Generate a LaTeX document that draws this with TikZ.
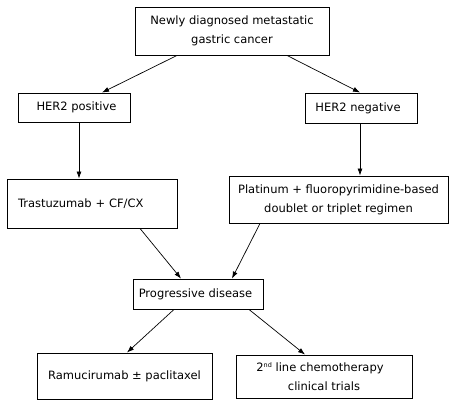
\documentclass[tikz,border=0pt]{standalone}
\usepackage{fontspec}
\setmainfont{DejaVu Sans}
\usetikzlibrary{arrows.meta}
\begin{document}
\begin{tikzpicture}[x=1pt,y=-1pt,
  box/.style={draw=black,line width=0.9pt,inner sep=0pt,align=center,
    font=\fontsize{11.5pt}{19pt}\selectfont},
  arr/.style={draw=black,line width=0.7pt,-{Latex[length=7pt,width=5pt]}}]
\useasboundingbox (0,0) rectangle (455,406);
\node[box,minimum width=194pt,minimum height=48pt] (top) at (232,31) {Newly diagnosed metastatic\\gastric cancer};
\node[box,minimum width=112pt,minimum height=29pt] (pos) at (74,107.5) {\hspace*{5pt}HER2 positive};
\node[box,minimum width=112pt,minimum height=30pt] (neg) at (361,108) {HER2 negative\hspace*{6pt}};
\node[box,minimum height=49pt,align=left,inner xsep=11pt,text width=148pt] (tras) at (92,203.5) {Trastuzumab + CF/CX};
\node[box,minimum width=219pt,minimum height=47pt] (plat) at (338.5,199.5) {Platinum + fluoropyrimidine-based\\doublet or triplet regimen};
\node[box,minimum width=130pt,minimum height=30pt] (pd) at (198,294) {Progressive disease\hspace*{5pt}};
\node[box,minimum width=175pt,minimum height=46pt] (ram) at (124.5,376) {Ramucirumab ± paclitaxel};
\node[box,minimum width=176pt,minimum height=43pt] (ct) at (324,376.5) {2\raisebox{4pt}{\fontsize{6.5pt}{7pt}\selectfont nd} line chemotherapy\hspace*{8pt}\\clinical trials};
\draw[arr] ([xshift=-55pt]top.south) -- ([xshift=28pt]pos.north);
\draw[arr] ([xshift=55pt]top.south) -- ([xshift=-1pt]neg.north);
\draw[arr] ([xshift=5pt]pos.south) -- ([xshift=-13pt]tras.north);
\draw[arr] ([xshift=-1pt]neg.south) -- ([xshift=21.5pt]plat.north);
\draw[arr] ([xshift=48pt]tras.south) -- ([xshift=-17pt]pd.north);
\draw[arr] ([xshift=-78.5pt]plat.south) -- ([xshift=34pt]pd.north);
\draw[arr] ([xshift=-24pt]pd.south) -- ([xshift=2.5pt]ram.north);
\draw[arr] ([xshift=51pt]pd.south) -- ([xshift=-19pt]ct.north);
\end{tikzpicture}
\end{document}
